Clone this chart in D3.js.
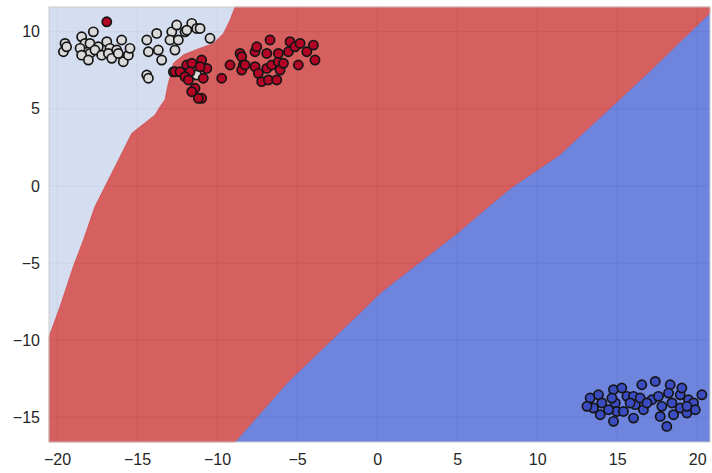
<!DOCTYPE html>
<html><head><meta charset="utf-8">
<script src="https://cdn.jsdelivr.net/npm/d3@7"></script>
<style>body{margin:0;background:#fff}</style>
</head><body><svg id="c" width="712" height="473"></svg>
<script>
// ---- data ----
const xTicks = [-20, -15, -10, -5, 0, 5, 10, 15, 20];
const yTicks = [-15, -10, -5, 0, 5, 10];
const xDomain = [-20.5, 20.8];
const yDomain = [-16.6, 11.6];

// decision boundary between "white" region (upper-left) and "red" region, top edge -> left edge
const boundaryWhiteRed = [
  [-8.88, 11.6], [-9.19, 10.75], [-9.6, 9.89], [-10.23, 9.24], [-11.27, 8.85], [-12.1, 8.5],
  [-12.73, 7.95], [-12.94, 7.08], [-13.1, 6.4], [-13.25, 5.6], [-13.56, 5.14], [-13.88, 4.6],
  [-14.81, 3.84], [-15.33, 3.41], [-16.06, 1.9], [-16.69, 0.6], [-17.63, -1.34], [-18.35, -3.5],
  [-18.98, -5.22], [-19.81, -7.82], [-20.5, -9.78]
];
// decision boundary between "red" and "blue" region, bottom edge -> right edge
const boundaryRedBlue = [
  [-8.86, -16.6], [-5.58, -12.75], [0.35, -6.82], [5.01, -3.09], [6.49, -1.77], [8.39, -0.13],
  [11.36, 1.96], [14.11, 4.59], [17.29, 7.66], [20.8, 11.2]
];

const whitePoints = [
  [-19.5, 9.24], [-19.6, 8.7], [-19.4, 9.02], [-18.46, 9.67], [-17.73, 9.99], [-18.25, 9.24],
  [-18.56, 8.92], [-17.94, 9.24], [-17.42, 9.02], [-17.94, 8.59], [-18.46, 8.48], [-18.04, 8.16],
  [-17.63, 8.81], [-17.21, 8.48], [-16.89, 9.35], [-16.69, 8.92], [-16.79, 8.59], [-16.58, 8.27],
  [-16.27, 8.81], [-15.96, 9.46], [-15.86, 8.05], [-15.54, 8.48], [-15.44, 8.92], [-16.17, 8.59],
  [-14.39, 9.46], [-13.77, 9.89], [-14.29, 8.7], [-13.67, 8.81], [-13.46, 8.16], [-12.83, 9.99],
  [-12.52, 10.43], [-12.94, 9.46], [-12.63, 8.81], [-12.42, 9.46], [-12.0, 9.99], [-11.58, 10.54],
  [-11.27, 10.21], [-11.89, 10.1], [-10.44, 9.57], [-14.39, 7.19], [-14.29, 6.98], [-11.27, 7.19],
  [-12.73, 7.4], [-11.06, 10.21]
];
const redPoints = [
  [-16.89, 10.64], [-10.96, 8.16], [-10.64, 7.62], [-10.86, 6.98], [-10.96, 5.68], [-9.71, 6.98],
  [-9.19, 7.84], [-8.56, 8.59], [-8.46, 8.38], [-8.36, 7.84], [-8.46, 7.51], [-7.63, 8.7],
  [-7.52, 9.02], [-7.63, 7.73], [-7.42, 7.3], [-7.21, 6.76], [-6.89, 8.59], [-6.79, 6.87],
  [-6.89, 7.62], [-6.69, 9.46], [-6.58, 7.84], [-6.27, 6.87], [-6.17, 8.05], [-6.06, 7.51],
  [-5.85, 7.95], [-5.54, 8.7], [-5.44, 9.35], [-5.13, 9.02], [-4.81, 9.24], [-4.39, 8.7],
  [-3.98, 9.13], [-3.88, 8.16], [-4.92, 7.84], [-6.17, 8.59], [-12.63, 7.4], [-12.31, 7.4],
  [-11.89, 7.84], [-11.58, 7.95], [-11.06, 7.73], [-11.69, 7.4], [-12.0, 7.08], [-11.79, 6.87],
  [-11.38, 6.33], [-11.58, 6.11], [-11.17, 5.68], [-8.25, 7.84]
];
const bluePoints = [
  [13.31, -13.75], [13.83, -13.54], [13.52, -14.4], [13.11, -14.29], [14.04, -14.07], [13.94, -14.83],
  [14.77, -13.21], [15.29, -13.1], [14.88, -14.07], [14.67, -13.75], [14.98, -14.62], [14.77, -15.26],
  [15.39, -14.62], [15.61, -13.64], [16.02, -13.64], [16.13, -14.18], [16.02, -15.05], [16.54, -12.89],
  [16.44, -13.75], [16.64, -14.51], [17.17, -13.86], [17.38, -12.67], [17.58, -13.64], [17.79, -14.29],
  [18.31, -12.89], [18.21, -13.43], [18.42, -14.07], [18.52, -14.83], [18.94, -13.54], [18.94, -14.4],
  [19.04, -13.1], [19.36, -14.72], [19.46, -13.86], [19.77, -14.07], [19.88, -14.51], [20.29, -13.54],
  [18.1, -15.59], [14.46, -14.51], [15.81, -14.07], [16.86, -14.07], [19.36, -14.29], [17.69, -14.94]
];

// ---- chart ----
const W = 712, H = 473;
const m = {left: 49, right: 2, top: 7, bottom: 31};
const svg = d3.select("#c");
const x = d3.scaleLinear().domain(xDomain).range([m.left, W - m.right]);
const y = d3.scaleLinear().domain(yDomain).range([H - m.bottom, m.top]);
const fmt = d => (d < 0 ? "\u2212" + Math.abs(d) : String(d));

// grid (under the semi-transparent filled regions)
const grid = svg.append("g");
grid.selectAll("line.gx").data(xTicks).join("line")
  .attr("x1", d => x(d)).attr("x2", d => x(d)).attr("y1", y(yDomain[0])).attr("y2", y(yDomain[1]))
  .attr("stroke", "#cccccc").attr("stroke-width", 1);
grid.selectAll("line.gy").data(yTicks).join("line")
  .attr("y1", d => y(d)).attr("y2", d => y(d)).attr("x1", x(xDomain[0])).attr("x2", x(xDomain[1]))
  .attr("stroke", "#cccccc").attr("stroke-width", 1);

const line = d3.line().x(d => x(d[0])).y(d => y(d[1]));
const [x0, x1] = xDomain, [y0, y1] = yDomain;
const lastWR = boundaryWhiteRed[boundaryWhiteRed.length - 1];
const lastRB = boundaryRedBlue[boundaryRedBlue.length - 1];

const whiteRegion = [[x0, y1], ...boundaryWhiteRed, [x0, y1]];
const blueRegion = [...boundaryRedBlue, [x1, y0], boundaryRedBlue[0]];
const redRegion = [boundaryWhiteRed[0], [x1, y1], lastRB, ...boundaryRedBlue.slice().reverse(), [x0, y0], lastWR,
  ...boundaryWhiteRed.slice().reverse()];

const regions = svg.append("g").attr("fill-opacity", 0.8);
regions.append("path").attr("d", line(whiteRegion) + "Z").attr("fill", "#cbd6ec");
regions.append("path").attr("d", line(redRegion) + "Z").attr("fill", "#cc3837").attr("stroke", "#cc3837").attr("stroke-width", 0.6);
regions.append("path").attr("d", line(blueRegion) + "Z").attr("fill", "#4b66d4");

// frame
svg.append("rect").attr("x", x(x0)).attr("y", y(y1)).attr("width", x(x1) - x(x0)).attr("height", y(y0) - y(y1))
  .attr("fill", "none").attr("stroke", "#cccccc").attr("stroke-width", 1);

// points
const pts = svg.append("g").attr("stroke", "#151515").attr("stroke-width", 1.7);
const drawPts = (data, color) => pts.append("g").selectAll("circle").data(data).join("circle")
  .attr("cx", d => x(d[0])).attr("cy", d => y(d[1])).attr("r", 4.6).attr("fill", color);
drawPts(whitePoints, "#d9d9d9");
drawPts(redPoints, "#b40426");
drawPts(bluePoints, "#3b4cc0");

// axes (labels only)
const xAxis = d3.axisBottom(x).tickValues(xTicks).tickFormat(fmt).tickSize(0).tickPadding(12);
const yAxis = d3.axisLeft(y).tickValues(yTicks).tickFormat(fmt).tickSize(0).tickPadding(9);
const gx = svg.append("g").attr("transform", `translate(0,${H - m.bottom})`).call(xAxis);
const gy = svg.append("g").attr("transform", `translate(${m.left},0)`).call(yAxis);
[gx, gy].forEach(g => {
  g.select(".domain").remove();
  g.selectAll("text").attr("font-family", "'Liberation Sans', Arial, sans-serif").attr("font-size", 16).attr("fill", "#262626");
});
</script></body></html>
